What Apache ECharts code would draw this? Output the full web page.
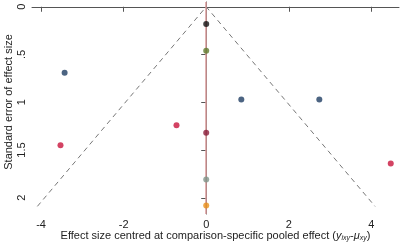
<!DOCTYPE html>
<html>
<head>
<meta charset="utf-8">
<script src="https://cdn.jsdelivr.net/npm/echarts@6/dist/echarts.min.js"></script>
<style>
  html, body { margin: 0; padding: 0; background: #fff; }
  #chart { width: 400px; height: 243px; }
</style>
</head>
<body>
<div id="chart"></div>
<script>
// studies: centred effect size and its standard error
var effect = [0, 0, 0.85, -3.43, -3.53, -0.72, 0, 0, 0, 2.74, 4.47];
var stdErr = [0.18, 0.46, 0.97, 0.69, 1.45, 1.24, 1.32, 1.81, 2.08, 0.97, 1.64];
var dotColors = ['#111111', '#5f7a2c', '#1f3d63', '#1f3d63', '#c8143c', '#c8143c',
                 '#8a1c38', '#7f9488', '#e8901a', '#1f3d63', '#c8143c'];

// pseudo 95% confidence funnel
var funnelX = [-4.09, 0, 4.09];
var funnelSE = [2.09, 0, 2.09];

var xTicks = [-4, -2, 0, 2, 4];
var yTicks = [0, 0.5, 1, 1.5, 2];

var points = effect.map(function (v, i) {
  return { value: [v, stdErr[i]], itemStyle: { color: dotColors[i] } };
});
var funnel = funnelX.map(function (v, i) { return [v, funnelSE[i]]; });

var chart = echarts.init(document.getElementById('chart'));
chart.setOption({
  animation: false,
  backgroundColor: '#fff',
  grid: { left: 32, right: 1, top: 2, bottom: 29, containLabel: false, outerBoundsMode: 'none' },
  xAxis: {
    type: 'value',
    min: -4.22, max: 4.67,
    splitLine: { show: false },
    axisLine: { lineStyle: { color: '#555', width: 1 } },
    axisTick: { show: true, length: 5, lineStyle: { color: '#555' }, customValues: xTicks },
    axisLabel: { color: '#222', fontSize: 11, fontFamily: 'Liberation Sans', margin: 5, customValues: xTicks },
    name: '{t|Effect size centred at comparison-specific pooled effect (}{i|y}{s|ixy}{t|-}{i|μ}{s|xy}{t|)}',
    nameLocation: 'middle',
    nameGap: 16,
    nameMoveOverlap: false,
    nameTextStyle: {
      rich: {
        t: { fontSize: 11, color: '#222', fontFamily: 'Liberation Sans', lineHeight: 12 },
        i: { fontSize: 11, color: '#222', fontFamily: 'Liberation Sans', fontStyle: 'italic', lineHeight: 12 },
        s: { fontSize: 7, color: '#222', fontFamily: 'Liberation Sans', fontStyle: 'italic', lineHeight: 12, padding: [4, 0, 0, 0] }
      }
    }
  },
  yAxis: {
    type: 'value',
    inverse: true,
    min: -0.05, max: 2.17,
    splitLine: { show: false },
    axisLine: { show: true, lineStyle: { color: '#555', width: 1 } },
    axisTick: { show: true, length: 5, lineStyle: { color: '#555' }, customValues: yTicks },
    axisLabel: {
      color: '#222', fontSize: 11, fontFamily: 'Liberation Sans', rotate: 90, margin: 5,
      customValues: yTicks,
      formatter: function (v) { return v > 0 && v < 1 ? String(v).replace('0.', '.') : String(v); }
    },
    name: 'Standard error of effect size',
    nameLocation: 'middle',
    nameGap: 18,
    nameRotate: 90,
    nameMoveOverlap: false,
    nameTextStyle: { color: '#222', fontSize: 11, fontFamily: 'Liberation Sans', padding: [0, 0, 0, 12] }
  },
  series: [
    {
      type: 'line',
      data: funnel,
      symbol: 'none',
      lineStyle: { color: '#777', width: 1, type: [5, 4] },
      z: 2,
      markLine: {
        silent: true,
        symbol: 'none',
        label: { show: false },
        lineStyle: { color: '#d99a9a', width: 1.5, type: 'solid' },
        data: [{ xAxis: 0 }]
      }
    },
    {
      type: 'scatter',
      data: points,
      symbolSize: 6,
      z: 5
    }
  ]
});
</script>
</body>
</html>
